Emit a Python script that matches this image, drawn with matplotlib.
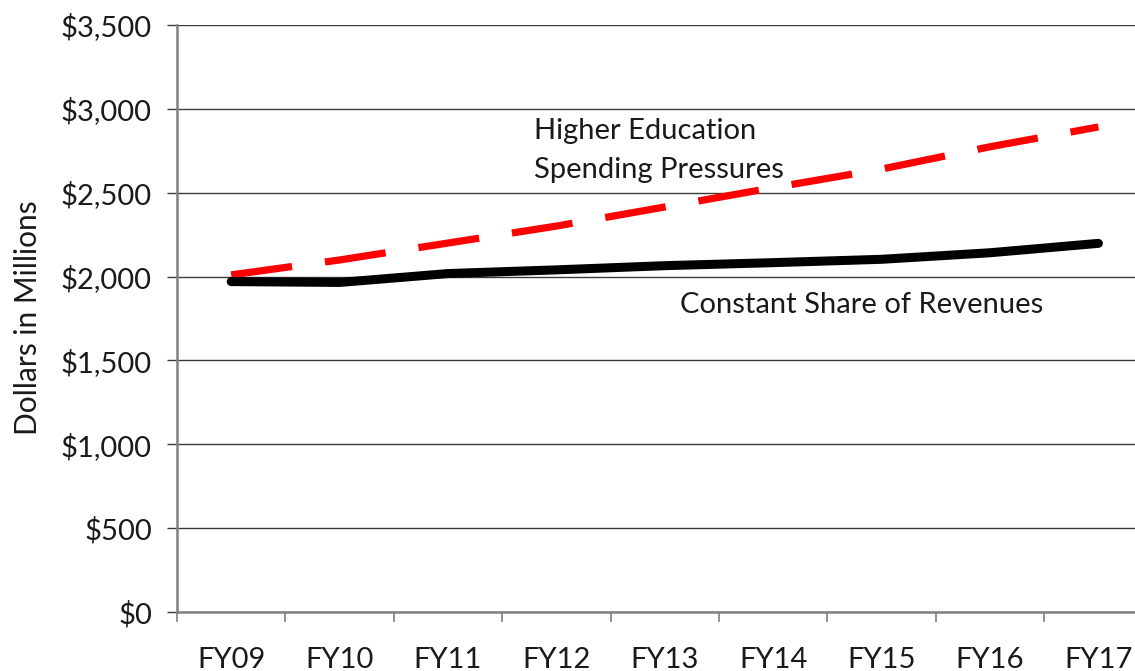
import numpy as np
import matplotlib.pyplot as plt
from matplotlib.ticker import FuncFormatter, FixedLocator

plt.rcParams['font.family'] = ['Lato', 'DejaVu Sans']
plt.rcParams['text.color'] = '#1a1a1a'
plt.rcParams['xtick.labelcolor'] = '#1a1a1a'
plt.rcParams['ytick.labelcolor'] = '#1a1a1a'

years = ['FY09', 'FY10', 'FY11', 'FY12', 'FY13', 'FY14', 'FY15', 'FY16', 'FY17']
pressures = [2010, 2099, 2200, 2301, 2415, 2530, 2641, 2774, 2892]
constant_share = [1970, 1965, 2018, 2040, 2065, 2083, 2103, 2142, 2198]

fig = plt.figure(figsize=(11.35, 6.71), dpi=100)
# axes run past the right edge, like the cropped original
ax = fig.add_axes([177/1135, 59/671, 975.6/1135, 587/671])

x = np.arange(len(years))
ax.plot(x, pressures, color='#ff0000', lw=5.2, dashes=(8.5, 4.6),
        solid_capstyle='butt', dash_capstyle='butt', zorder=3)
ax.plot(x, constant_share, color='black', lw=6.5, solid_capstyle='round',
        solid_joinstyle='round', zorder=4)

ax.set_xlim(-0.5, len(years) - 0.5)
ax.set_ylim(0, 3500)
ax.set_yticks(np.arange(0, 3501, 500))
ax.yaxis.set_major_formatter(FuncFormatter(lambda v, p: '${:,.0f}'.format(v)))
ax.yaxis.grid(True, color='#3a3a3a', lw=1.0)
ax.set_axisbelow(True)

ax.set_xticks(x)
ax.set_xticklabels(years)
ax.xaxis.set_minor_locator(FixedLocator(np.arange(-0.5, len(years), 1)))
ax.tick_params(axis='x', which='major', length=0, pad=25, labelsize=21)
ax.tick_params(axis='x', which='minor', length=7, width=1.2, color='#808080')
ax.tick_params(axis='y', length=7, width=1.0, color='#3a3a3a', pad=11, labelsize=21)

for s in ['top', 'right']:
    ax.spines[s].set_visible(False)
for s in ['left', 'bottom']:
    ax.spines[s].set_color('#808080')
    ax.spines[s].set_linewidth(1.8)

fig.text(28/1135, 1 - 318/671, 'Dollars in Millions', fontsize=21.5, rotation=90,
         ha='center', va='center')

ax.text(2.79, 2820, 'Higher Education', fontsize=21, ha='left', va='baseline')
ax.text(2.79, 2588, 'Spending Pressures', fontsize=21, ha='left', va='baseline')
ax.text(4.14, 1783, 'Constant Share of Revenues', fontsize=21, ha='left', va='baseline')

fig.savefig('out.png', dpi=100)
